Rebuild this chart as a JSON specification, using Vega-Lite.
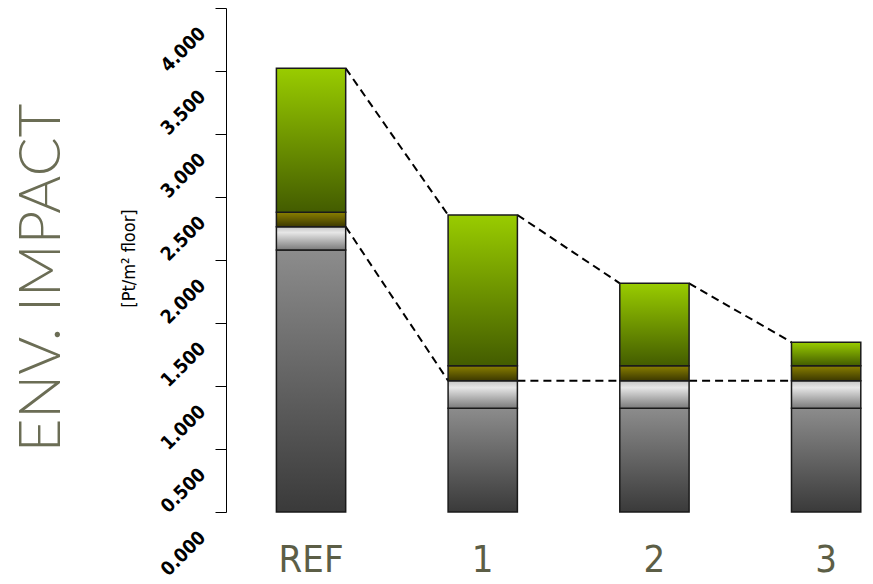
{
  "$schema": "https://vega.github.io/schema/vega-lite/v6.json",
  "width": 647,
  "height": 504,
  "autosize": {"type": "none"},
  "padding": {"left": 226, "top": 8, "right": 0, "bottom": 72},
  "background": "white",
  "title": {"text": "ENV. IMPACT", "orient": "left", "anchor": "middle", "font": "Lato", "fontWeight": 300, "fontSize": 58, "color": "#6b6d55", "offset": 48, "dx": -18},
  "datasets": {
    "segments": [
      {"scenario": "REF", "component": "c1", "order": 1, "impact": 2.079},
      {"scenario": "REF", "component": "c2", "order": 2, "impact": 0.185},
      {"scenario": "REF", "component": "c3", "order": 3, "impact": 0.115},
      {"scenario": "REF", "component": "c4", "order": 4, "impact": 1.142},
      {"scenario": "1", "component": "c1", "order": 1, "impact": 0.823},
      {"scenario": "1", "component": "c2", "order": 2, "impact": 0.219},
      {"scenario": "1", "component": "c3", "order": 3, "impact": 0.119},
      {"scenario": "1", "component": "c4", "order": 4, "impact": 1.196},
      {"scenario": "2", "component": "c1", "order": 1, "impact": 0.823},
      {"scenario": "2", "component": "c2", "order": 2, "impact": 0.219},
      {"scenario": "2", "component": "c3", "order": 3, "impact": 0.119},
      {"scenario": "2", "component": "c4", "order": 4, "impact": 0.654},
      {"scenario": "3", "component": "c1", "order": 1, "impact": 0.823},
      {"scenario": "3", "component": "c2", "order": 2, "impact": 0.219},
      {"scenario": "3", "component": "c3", "order": 3, "impact": 0.119},
      {"scenario": "3", "component": "c4", "order": 4, "impact": 0.186}
    ],
    "links": [
      {"from": "REF", "to": "1", "start": 3.521, "end": 2.357},
      {"from": "1", "to": "2", "start": 2.357, "end": 1.815},
      {"from": "2", "to": "3", "start": 1.815, "end": 1.347},
      {"from": "REF", "to": "1", "start": 2.264, "end": 1.042},
      {"from": "1", "to": "2", "start": 1.042, "end": 1.042},
      {"from": "2", "to": "3", "start": 1.042, "end": 1.042}
    ]
  },
  "config": {
    "view": {"stroke": null},
    "axisY": {
      "titleFont": "DejaVu Sans Condensed",
      "titleFontWeight": "normal",
      "titleFontSize": 18,
      "titleColor": "#000000"
    }
  },
  "layer": [
    {
      "data": {"name": "links"},
      "mark": {"type": "rule", "strokeDash": [8, 5], "strokeWidth": 2, "color": "#000000", "xOffset": 34.65, "x2Offset": -34.65},
      "encoding": {
        "x": {"field": "from", "type": "nominal", "title": null,
          "scale": {"domain": ["REF", "1", "2", "3"], "paddingInner": 0.5964, "paddingOuter": 0.1823, "align": 0.805},
          "axis": {"domain": false, "ticks": false, "grid": false, "labelAngle": 0, "labelFont": "DejaVu Sans Condensed", "labelFontSize": 38, "labelColor": "#5c5e46", "labelPadding": 29, "title": null}},
        "x2": {"field": "to"},
        "y": {"field": "start", "type": "quantitative", "title": "[Pt/m² floor]",
          "scale": {"domain": [0, 4], "nice": false},
          "axis": {
            "values": [0, 0.5, 1, 1.5, 2, 2.5, 3, 3.5, 4],
            "format": ".3f",
            "grid": false,
            "domainColor": "#000000",
            "domainWidth": 1,
            "tickColor": "#000000",
            "tickSize": 11,
            "tickWidth": 1,
            "labelAngle": -45,
            "labelAlign": "right",
            "labelBaseline": "middle",
            "labelPadding": 13,
            "labelOffset": 22,
            "labelFont": "DejaVu Sans Condensed",
            "labelFontWeight": "bold",
            "labelFontSize": 19,
            "labelColor": "#000000",
            "labelFlush": false,
            "labelOverlap": false,
            "labelBound": false,
            "title": "[Pt/m² floor]",
            "titleFont": "DejaVu Sans Condensed",
            "titleFontWeight": "normal",
            "titleFontSize": 18,
            "titleColor": "#000000",
            "titleAngle": -90,
            "titleBaseline": "middle",
            "titleAlign": "center",
            "titleX": -97,
            "titleY": 250
          }},
        "y2": {"field": "end"}
      }
    },
    {
      "data": {"name": "segments"},
      "transform": [
        {"stack": "impact", "groupby": ["scenario"], "sort": [{"field": "order", "order": "ascending"}], "as": ["y0", "y1"]}
      ],
      "encoding": {
        "x": {"field": "scenario", "type": "nominal", "title": null},
        "y": {"field": "y0", "type": "quantitative", "title": "[Pt/m² floor]"},
        "y2": {"field": "y1"}
      },
      "layer": [
        {
          "transform": [{"filter": "datum.component === 'c1'"}],
          "mark": {"type": "bar", "stroke": "#1a1a1a", "strokeWidth": 1.5,
            "fill": {"gradient": "linear", "x1": 0, "y1": 0, "x2": 0, "y2": 1, "stops": [{"offset": 0, "color": "#8c8c8c"}, {"offset": 1, "color": "#3a3a3a"}]}}
        },
        {
          "transform": [{"filter": "datum.component === 'c2'"}],
          "mark": {"type": "bar", "stroke": "#1a1a1a", "strokeWidth": 1.5,
            "fill": {"gradient": "linear", "x1": 0, "y1": 0, "x2": 0, "y2": 1, "stops": [{"offset": 0, "color": "#c4c4c4"}, {"offset": 0.25, "color": "#e6e6e6"}, {"offset": 1, "color": "#7a7a7a"}]}}
        },
        {
          "transform": [{"filter": "datum.component === 'c3'"}],
          "mark": {"type": "bar", "stroke": "#1a1a1a", "strokeWidth": 1.5,
            "fill": {"gradient": "linear", "x1": 0, "y1": 0, "x2": 0, "y2": 1, "stops": [{"offset": 0, "color": "#8a8000"}, {"offset": 1, "color": "#3c3800"}]}}
        },
        {
          "transform": [{"filter": "datum.component === 'c4'"}],
          "mark": {"type": "bar", "stroke": "#1a1a1a", "strokeWidth": 1.5,
            "fill": {"gradient": "linear", "x1": 0, "y1": 0, "x2": 0, "y2": 1, "stops": [{"offset": 0, "color": "#99cc00"}, {"offset": 1, "color": "#435c00"}]}}
        }
      ]
    }
  ]
}
